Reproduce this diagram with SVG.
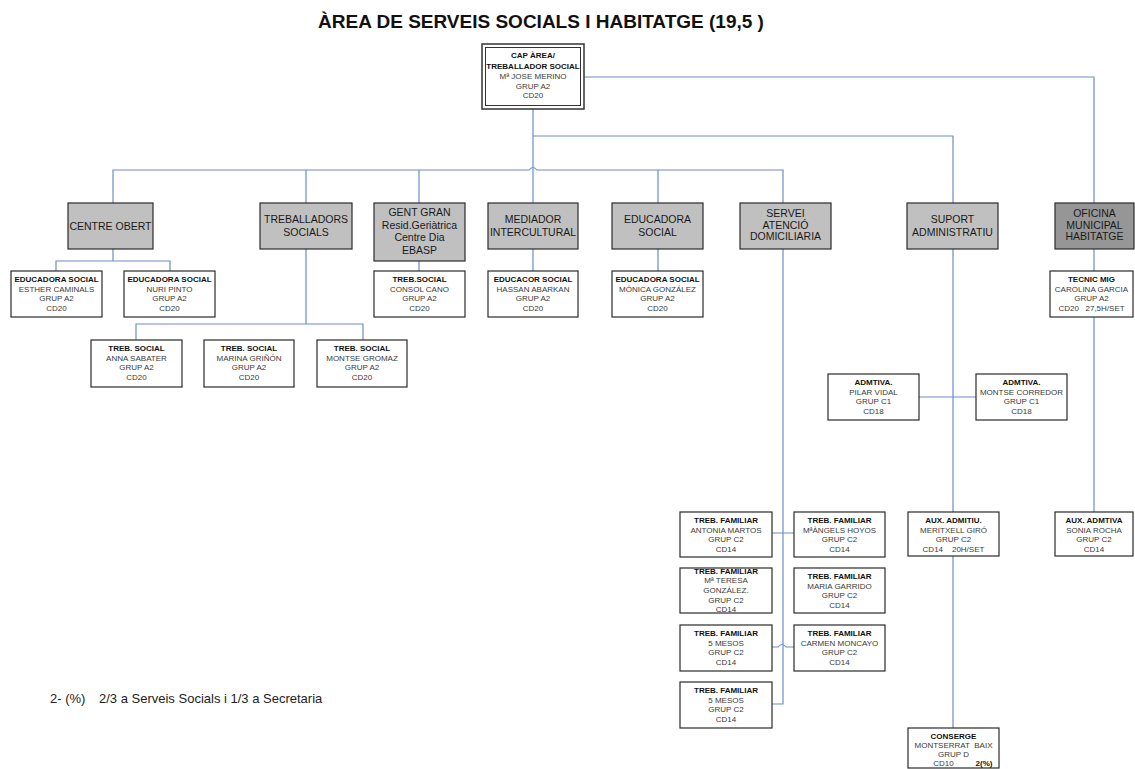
<svg xmlns="http://www.w3.org/2000/svg" width="1135" height="769" viewBox="0 0 1135 769">
<style>
text{font-family:"Liberation Sans",Arial,sans-serif;text-anchor:middle}
.title{font-size:19px;font-weight:bold;fill:#111}
.big{font-size:10.5px;fill:#1a1a1a}
.h{font-size:8px;font-weight:bold;fill:#111}
.t{font-size:8px;fill:#3a3a3a}
.note{font-size:13px;fill:#222;text-anchor:start}
.g1{fill:#c0c0c0;stroke:#2a2a2a;stroke-width:1.2}
.g2{fill:#969696;stroke:#2a2a2a;stroke-width:1.2}
.w{fill:#fff;stroke:#2a2a2a;stroke-width:1.2}
.c{fill:none;stroke:#6d8ec9;stroke-width:1.2}
</style>
<rect width="1135" height="769" fill="#fff"/>
<text class="title" x="541" y="28">ÀREA DE SERVEIS SOCIALS I HABITATGE (19,5 )</text>

<g id="connectors">
<path class="c" d="M584,77 H1094 V203"/>
<path class="c" d="M533,109 V203"/>
<path class="c" d="M533,136 H953 V203"/>
<path class="c" d="M113,203 V170 H529 q4,-5 8,0 H783 V203"/>
<path class="c" d="M306,170 V203 M419,170 V203 M658,170 V203"/>
<path class="c" d="M113,249 V261 M56,271 V261 H170 V271"/>
<path class="c" d="M306,249 V324 M136,340 V324 H363 V340"/>
<path class="c" d="M419,261 V271 M533,249 V271 M658,249 V271"/>
<path class="c" d="M783,249 V704 H772 M772,533 H794 M772,647 H778 q4,-5 8,0 H794"/>
<path class="c" d="M953,249 V728 M919,397 H976"/>
<path class="c" d="M1094,249 V272 M1094,317 V512"/>
</g>

<g id="cap">
<rect x="482" y="44" width="102" height="65" fill="#fff" stroke="#333" stroke-width="1.5"/>
<rect x="485.5" y="47.5" width="95" height="58" fill="none" stroke="#333" stroke-width="1"/>
<text class="h" x="533" y="58">CAP ÀREA/</text>
<text class="h" x="533" y="68.5">TREBALLADOR SOCIAL</text>
<text class="t" x="533" y="78.5">Mª JOSE MERINO</text>
<text class="t" x="533" y="88.5">GRUP A2</text>
<text class="t" x="533" y="98">CD20</text>
</g>

<g id="centre-obert">
<rect class="g1" x="68" y="203" width="85" height="46"/>
<text class="big" x="110.5" y="229.7">CENTRE OBERT</text>
</g>
<g id="treballadors-socials">
<rect class="g1" x="260" y="203" width="92" height="46"/>
<text class="big" x="306" y="223">TREBALLADORS</text>
<text class="big" x="306" y="236">SOCIALS</text>
</g>
<g id="gent-gran">
<rect class="g1" x="374" y="203" width="91" height="58"/>
<text class="big" x="419.5" y="216">GENT GRAN</text>
<text class="big" x="419.5" y="228.5">Resid.Geriàtrica</text>
<text class="big" x="419.5" y="241">Centre Dia</text>
<text class="big" x="419.5" y="253.5">EBASP</text>
</g>
<g id="mediador">
<rect class="g1" x="488" y="203" width="90" height="46"/>
<text class="big" x="533" y="223">MEDIADOR</text>
<text class="big" x="533" y="236">INTERCULTURAL</text>
</g>
<g id="educadora">
<rect class="g1" x="612" y="203" width="91" height="46"/>
<text class="big" x="657.5" y="223">EDUCADORA</text>
<text class="big" x="657.5" y="236">SOCIAL</text>
</g>
<g id="servei">
<rect class="g1" x="740" y="203" width="91" height="46"/>
<text class="big" x="785.5" y="217">SERVEI</text>
<text class="big" x="785.5" y="228.5">ATENCIÓ</text>
<text class="big" x="785.5" y="240">DOMICILIARIA</text>
</g>
<g id="suport">
<rect class="g1" x="907" y="203" width="91" height="46"/>
<text class="big" x="952.5" y="223">SUPORT</text>
<text class="big" x="952.5" y="236">ADMINISTRATIU</text>
</g>
<g id="oficina">
<rect class="g2" x="1055" y="203" width="79" height="46"/>
<text class="big" x="1094.5" y="217">OFICINA</text>
<text class="big" x="1094.5" y="228.5">MUNICIPAL</text>
<text class="big" x="1094.5" y="240">HABITATGE</text>
</g>

<g id="esther">
<rect class="w" x="11" y="271" width="91" height="46"/>
<text class="h" x="56.5" y="282">EDUCADORA SOCIAL</text>
<text class="t" x="56.5" y="291.7">ESTHER CAMINALS</text>
<text class="t" x="56.5" y="301.4">GRUP A2</text>
<text class="t" x="56.5" y="311">CD20</text>
</g>
<g id="nuri">
<rect class="w" x="124" y="271" width="91" height="46"/>
<text class="h" x="169.5" y="282">EDUCADORA SOCIAL</text>
<text class="t" x="169.5" y="291.7">NURI PINTO</text>
<text class="t" x="169.5" y="301.4">GRUP A2</text>
<text class="t" x="169.5" y="311">CD20</text>
</g>
<g id="consol">
<rect class="w" x="374" y="271" width="91" height="46"/>
<text class="h" x="419.5" y="282">TREB.SOCIAL</text>
<text class="t" x="419.5" y="291.7">CONSOL CANO</text>
<text class="t" x="419.5" y="301.4">GRUP A2</text>
<text class="t" x="419.5" y="311">CD20</text>
</g>
<g id="hassan">
<rect class="w" x="488" y="271" width="90" height="46"/>
<text class="h" x="533" y="282">EDUCACOR SOCIAL</text>
<text class="t" x="533" y="291.7">HASSAN ABARKAN</text>
<text class="t" x="533" y="301.4">GRUP A2</text>
<text class="t" x="533" y="311">CD20</text>
</g>
<g id="monica">
<rect class="w" x="612" y="271" width="91" height="46"/>
<text class="h" x="657.5" y="282">EDUCADORA SOCIAL</text>
<text class="t" x="657.5" y="291.7">MÓNICA GONZÁLEZ</text>
<text class="t" x="657.5" y="301.4">GRUP A2</text>
<text class="t" x="657.5" y="311">CD20</text>
</g>
<g id="tecnic">
<rect class="w" x="1050" y="271" width="83" height="46"/>
<text class="h" x="1091.5" y="282">TECNIC MIG</text>
<text class="t" x="1091.5" y="291.7">CAROLINA GARCIA</text>
<text class="t" x="1091.5" y="301.4">GRUP A2</text>
<text class="t" x="1091.5" y="311" xml:space="preserve">CD20   27,5H/SET</text>
</g>

<g id="anna">
<rect class="w" x="91" y="340" width="91" height="47"/>
<text class="h" x="136.5" y="351">TREB. SOCIAL</text>
<text class="t" x="136.5" y="360.7">ANNA SABATER</text>
<text class="t" x="136.5" y="370.4">GRUP A2</text>
<text class="t" x="136.5" y="380">CD20</text>
</g>
<g id="marina">
<rect class="w" x="204" y="340" width="90" height="47"/>
<text class="h" x="249" y="351">TREB. SOCIAL</text>
<text class="t" x="249" y="360.7">MARINA GRIÑÓN</text>
<text class="t" x="249" y="370.4">GRUP A2</text>
<text class="t" x="249" y="380">CD20</text>
</g>
<g id="montse-gromaz">
<rect class="w" x="317" y="340" width="90" height="47"/>
<text class="h" x="362" y="351">TREB. SOCIAL</text>
<text class="t" x="362" y="360.7">MONTSE GROMAZ</text>
<text class="t" x="362" y="370.4">GRUP A2</text>
<text class="t" x="362" y="380">CD20</text>
</g>

<g id="pilar">
<rect class="w" x="828" y="374" width="91" height="46"/>
<text class="h" x="873.5" y="385">ADMTIVA.</text>
<text class="t" x="873.5" y="394.7">PILAR VIDAL</text>
<text class="t" x="873.5" y="404.4">GRUP C1</text>
<text class="t" x="873.5" y="414">CD18</text>
</g>
<g id="montse-corredor">
<rect class="w" x="976" y="374" width="91" height="46"/>
<text class="h" x="1021.5" y="385">ADMTIVA.</text>
<text class="t" x="1021.5" y="394.7">MONTSE CORREDOR</text>
<text class="t" x="1021.5" y="404.4">GRUP C1</text>
<text class="t" x="1021.5" y="414">CD18</text>
</g>

<g id="antonia">
<rect class="w" x="680" y="512" width="92" height="45"/>
<text class="h" x="726" y="523">TREB. FAMILIAR</text>
<text class="t" x="726" y="532.7">ANTONIA MARTOS</text>
<text class="t" x="726" y="542.4">GRUP C2</text>
<text class="t" x="726" y="552">CD14</text>
</g>
<g id="angels">
<rect class="w" x="794" y="512" width="91" height="45"/>
<text class="h" x="839.5" y="523">TREB. FAMILIAR</text>
<text class="t" x="839.5" y="532.7">MªÀNGELS HOYOS</text>
<text class="t" x="839.5" y="542.4">GRUP C2</text>
<text class="t" x="839.5" y="552">CD14</text>
</g>
<g id="teresa">
<rect class="w" x="680" y="568" width="92" height="45"/>
<text class="h" x="726" y="573.7">TREB. FAMILIAR</text>
<text class="t" x="726" y="583.3">Mª TERESA</text>
<text class="t" x="726" y="593">GONZÁLEZ.</text>
<text class="t" x="726" y="602.7">GRUP C2</text>
<text class="t" x="726" y="612.3">CD14</text>
</g>
<g id="maria">
<rect class="w" x="794" y="568" width="91" height="45"/>
<text class="h" x="839.5" y="579">TREB. FAMILIAR</text>
<text class="t" x="839.5" y="588.7">MARIA GARRIDO</text>
<text class="t" x="839.5" y="598.4">GRUP C2</text>
<text class="t" x="839.5" y="608">CD14</text>
</g>
<g id="mesos1">
<rect class="w" x="680" y="625" width="92" height="46"/>
<text class="h" x="726" y="636">TREB. FAMILIAR</text>
<text class="t" x="726" y="645.7">5 MESOS</text>
<text class="t" x="726" y="655.4">GRUP C2</text>
<text class="t" x="726" y="665">CD14</text>
</g>
<g id="carmen">
<rect class="w" x="794" y="625" width="91" height="46"/>
<text class="h" x="839.5" y="636">TREB. FAMILIAR</text>
<text class="t" x="839.5" y="645.7">CARMEN MONCAYO</text>
<text class="t" x="839.5" y="655.4">GRUP C2</text>
<text class="t" x="839.5" y="665">CD14</text>
</g>
<g id="mesos2">
<rect class="w" x="680" y="682" width="92" height="46"/>
<text class="h" x="726" y="693">TREB. FAMILIAR</text>
<text class="t" x="726" y="702.7">5 MESOS</text>
<text class="t" x="726" y="712.4">GRUP C2</text>
<text class="t" x="726" y="722">CD14</text>
</g>

<g id="meritxell">
<rect class="w" x="908" y="512" width="91" height="44"/>
<text class="h" x="953.5" y="523">AUX. ADMITIU.</text>
<text class="t" x="953.5" y="532.7">MERITXELL GIRÓ</text>
<text class="t" x="953.5" y="542.4">GRUP C2</text>
<text class="t" x="953.5" y="552" xml:space="preserve">CD14    20H/SET</text>
</g>
<g id="sonia">
<rect class="w" x="1055" y="512" width="78" height="44"/>
<text class="h" x="1094" y="523">AUX. ADMTIVA</text>
<text class="t" x="1094" y="532.7">SONIA ROCHA</text>
<text class="t" x="1094" y="542.4">GRUP C2</text>
<text class="t" x="1094" y="552">CD14</text>
</g>
<g id="conserge">
<rect class="w" x="908" y="728" width="91" height="40"/>
<text class="h" x="953.5" y="738.5">CONSERGE</text>
<text class="t" x="953.5" y="747.5" xml:space="preserve">MONTSERRAT  BAIX</text>
<text class="t" x="953.5" y="757">GRUP D</text>
<text class="t" x="943.5" y="766">CD10</text>
<text class="h" x="984" y="766">2(%)</text>
</g>

<text class="note" x="50" y="703">2- (%)</text>
<text class="note" x="99" y="703">2/3 a Serveis Socials i 1/3 a Secretaria</text>
</svg>
